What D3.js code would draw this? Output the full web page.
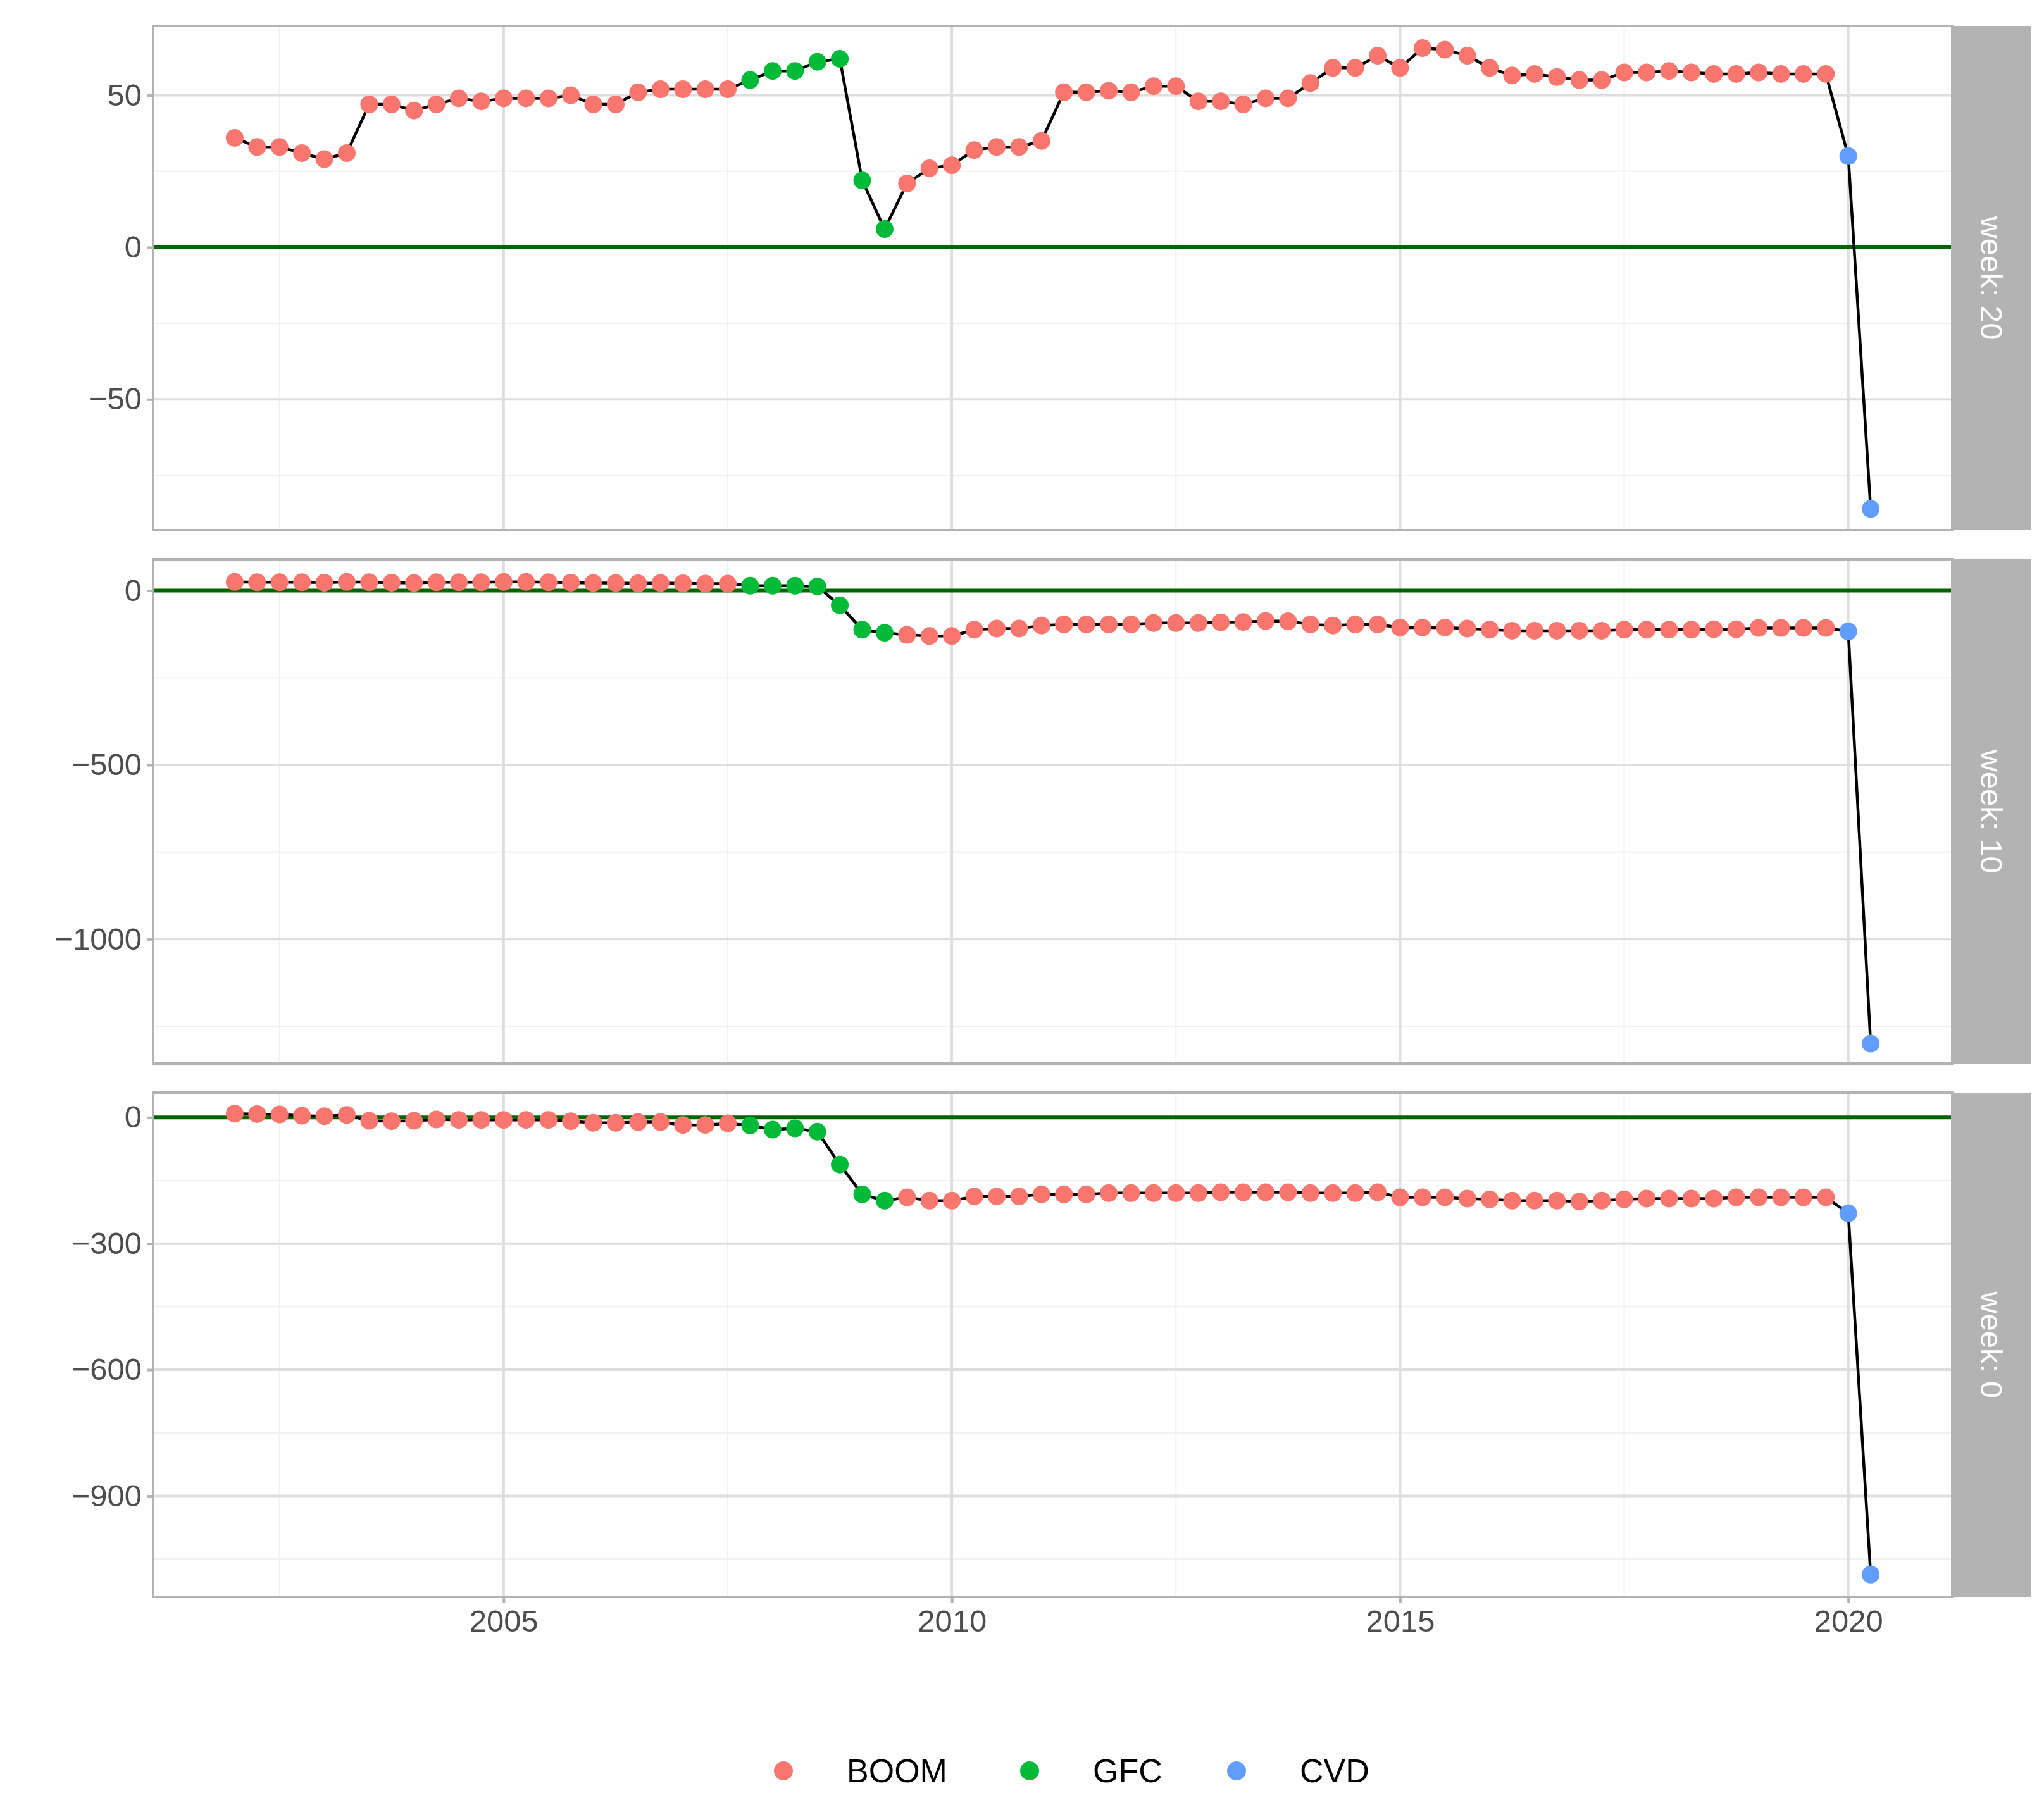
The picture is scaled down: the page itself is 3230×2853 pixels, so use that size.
<!DOCTYPE html>
<html><head><meta charset="utf-8">
<script src="https://cdn.jsdelivr.net/npm/d3@7"></script>
<style>body{margin:0;background:#fff}svg{display:block;font-family:"Liberation Sans",Arial,sans-serif}</style>
</head><body><svg id="c" width="3230" height="2853"></svg>
<script>
const startYear = 2002, nQuarters = 74;
const phases = ["BOOM","GFC","CVD"];
const phaseColors = ["#F8766D","#00BA38","#619CFF"];
const gfcRange = [2007.75, 2009.25];
const cvdStart = 2020;
const xTicks = [2005,2010,2015,2020];
const xMinor = [2002.5,2007.5,2012.5,2017.5];

const week20 = [36,33,33,31,29,31,47,47,45,47,49,48, 49,49,49,50,47,47,51,52,52,52,52,
 55,58,58,61,62,22,6,
 21,26,27,32,33,33,35, 51,51,51.5,51,53,53, 48,48,47,49,49, 54,59,59,63,59,
 65.5,65,63,59,56.5,57,56,55,55, 57.5,57.5,58,57.5,57,57,57.5,57,57,57, 30,-86];
const week10 = [25,24,24,24,23,25,24,23,22,24,24,24,25,25,24,23,22,22,21,22,21,20,20,
 14,14,14,12,-42,-112,-121,
 -127,-130,-130,-112,-109,-109,-100,-97,
 -97,-97,-97,-93,-93,-93,-91,-90,-87,-88,-97,-100,-97,-97,-106,-106,-106,-109,-112,-115,-115,-115,-115,-115,-112,-112,-112,-112,-111,-111,-107,-107,-107,-107,
 -117,-1300];
const week0 = [9,8,7,4,3,6,-8,-9,-8,-5,-6,-6,-6,-6,-6,-9,-13,-13,-11,-11,-18,-18,-14,
 -19,-29,-26,-34,-112,-183,-198,
 -190,-198,-198,-188,-188,-188,-183,-183,
 -183,-180,-180,-180,-180,-180,-178,-178,-178,-178,-180,-180,-180,-178,-190,-190,-190,-193,-195,-198,-198,-198,-200,-198,-195,-193,-193,-193,-193,-190,-190,-190,-190,-190,
 -228,-1087];

const panels = [
 {label:"week: 20", values:week20, domain:[-93,72.8], major:[-50,0,50], minor:[-75,-25,25]},
 {label:"week: 10", values:week10, domain:[-1357,90], major:[-1000,-500,0], minor:[-1250,-750,-250]},
 {label:"week: 0", values:week0, domain:[-1140,59], major:[-900,-600,-300,0], minor:[-1050,-750,-450,-150]}
];

const times = d3.range(nQuarters).map(i => startYear + i/4);
const phaseOf = t => t >= cvdStart ? "CVD" : (t >= gfcRange[0] && t <= gfcRange[1] ? "GFC" : "BOOM");
const color = d3.scaleOrdinal(phases, phaseColors);

const svg = d3.select("#c");
const L = 242, R = 3085, stripW = 124;
const tops = [41, 884, 1727], H = 797;
const x = d3.scaleLinear([2001.09, 2021.16], [L, R]);

panels.forEach((p, k) => {
  const top = tops[k];
  const y = d3.scaleLinear(p.domain, [top + H, top]);
  const g = svg.append("g");
  g.append("rect").attr("x",L).attr("y",top).attr("width",R-L).attr("height",H).attr("fill","#fff");
  p.minor.forEach(v => g.append("line").attr("x1",L).attr("x2",R).attr("y1",y(v)).attr("y2",y(v)).attr("stroke","#f0f0f0").attr("stroke-width",2));
  xMinor.forEach(v => g.append("line").attr("x1",x(v)).attr("x2",x(v)).attr("y1",top).attr("y2",top+H).attr("stroke","#f0f0f0").attr("stroke-width",2));
  p.major.forEach(v => g.append("line").attr("x1",L).attr("x2",R).attr("y1",y(v)).attr("y2",y(v)).attr("stroke","#dedede").attr("stroke-width",4));
  xTicks.forEach(v => g.append("line").attr("x1",x(v)).attr("x2",x(v)).attr("y1",top).attr("y2",top+H).attr("stroke","#dedede").attr("stroke-width",4));
  // zero line
  g.append("line").attr("x1",L).attr("x2",R).attr("y1",y(0)).attr("y2",y(0)).attr("stroke","#006400").attr("stroke-width",6);
  const data = times.map((t,i) => ({t, v:p.values[i], ph:phaseOf(t)}));
  g.append("path").datum(data).attr("fill","none").attr("stroke","#000").attr("stroke-width",4.5)
    .attr("d", d3.line().x(d=>x(d.t)).y(d=>y(d.v)));
  g.selectAll("circle").data(data).join("circle").attr("cx",d=>x(d.t)).attr("cy",d=>y(d.v)).attr("r",14).attr("fill",d=>color(d.ph));
  g.append("rect").attr("x",L).attr("y",top).attr("width",R-L).attr("height",H).attr("fill","none").attr("stroke","#b3b3b3").attr("stroke-width",4);
  // y axis
  const ay = g.append("g").attr("transform",`translate(${L},0)`).call(d3.axisLeft(y).tickValues(p.major).tickSize(10).tickPadding(8).tickFormat(d=>d<0?"\u2212"+Math.abs(d):d));
  ay.select(".domain").remove();
  ay.selectAll("line").attr("stroke","#b3b3b3").attr("stroke-width",4);
  ay.selectAll("text").attr("fill","#4d4d4d").style("font-size","49px");
  // strip
  g.append("rect").attr("x",R).attr("y",top).attr("width",stripW).attr("height",H).attr("fill","#b3b3b3");
  g.append("text").attr("transform",`translate(${R+stripW/2},${top+H/2}) rotate(90)`).attr("text-anchor","middle").attr("dy","0.35em")
    .attr("fill","#fff").style("font-size","49px").text(p.label);
  if (k === 2) {
    const ax = svg.append("g").attr("transform",`translate(0,${top+H})`).call(d3.axisBottom(x).tickValues(xTicks).tickSize(10).tickPadding(10).tickFormat(d3.format("d")));
    ax.select(".domain").remove();
    ax.selectAll("line").attr("stroke","#b3b3b3").attr("stroke-width",4);
    ax.selectAll("text").attr("fill","#4d4d4d").style("font-size","49px");
  }
});

// legend
const legX = [1238, 1627, 1954];
const lg = svg.append("g");
phases.forEach((ph,i) => {
  lg.append("circle").attr("cx",legX[i]).attr("cy",2799).attr("r",15).attr("fill",color(ph));
  lg.append("text").attr("x",legX[i]+100).attr("y",2799).attr("dy","0.35em").style("font-size","52px").attr("fill","#000").text(ph);
});
</script></body></html>
